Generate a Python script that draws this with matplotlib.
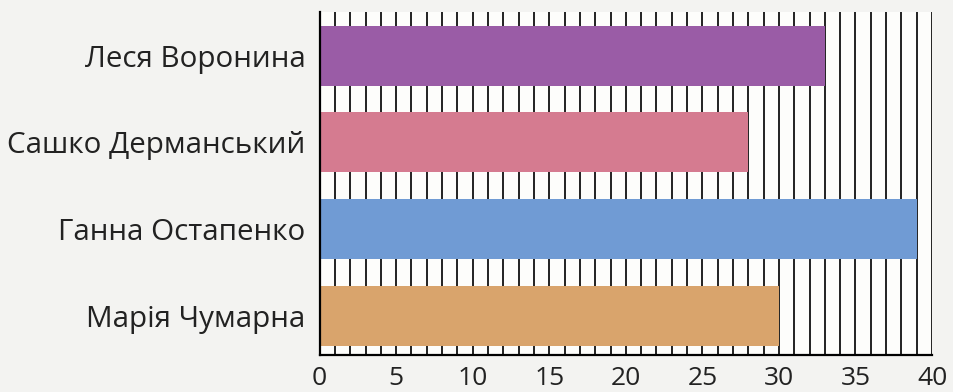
import numpy as np
import matplotlib.pyplot as plt

# data
names = ["Леся Воронина", "Сашко Дерманський", "Ганна Остапенко", "Марія Чумарна"]
values = [33, 28, 39, 30]
colors = ["#9a5ca6", "#d57b90", "#709bd4", "#d9a46c"]
xticks = [0, 5, 10, 15, 20, 25, 30, 35, 40]

plt.rcParams['font.family'] = ['Open Sans', 'DejaVu Sans']

fig = plt.figure(figsize=(9.54, 3.92), dpi=100, facecolor="#f3f3f1")
ax = fig.add_axes([0.335, 0.094, 0.642, 0.875])
ax.set_facecolor("#fdfdfb")

# vertical grid, one line per unit
for gx in range(0, 41):
    ax.axvline(gx, color="#111111", lw=1.3, zorder=1)

y = np.arange(len(names))
ax.barh(y, values, height=0.69, color=colors, zorder=2)

ax.set_xlim(0, 40)
ax.set_ylim(len(names) - 0.55, -0.5)
ax.set_yticks(y)
ax.set_yticklabels(names, fontsize=21.3, color="#222222")
ax.set_xticks(xticks)
ax.set_xticklabels([str(t) for t in xticks], fontsize=19, color="#222222")
ax.tick_params(axis="y", length=0, pad=10)
ax.tick_params(axis="x", length=0, pad=8)

for s in ["top", "right"]:
    ax.spines[s].set_visible(False)
ax.spines["left"].set_linewidth(1.6)
ax.spines["bottom"].set_linewidth(1.6)

fig.savefig("out.png", dpi=100, facecolor=fig.get_facecolor())
